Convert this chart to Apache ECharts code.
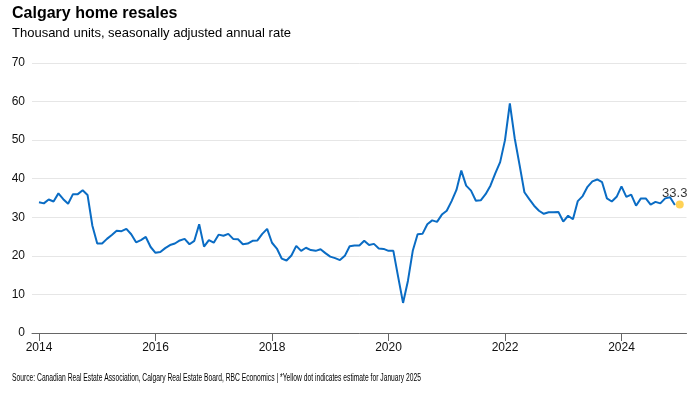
<!DOCTYPE html>
<html>
<head>
<meta charset="utf-8">
<script src="https://cdn.jsdelivr.net/npm/echarts@6/dist/echarts.min.js"></script>
<style>html,body{margin:0;padding:0;background:#fff;}#c{width:694px;height:396px;}</style>
</head>
<body>
<div id="c"></div>
<script>
// Monthly values, Jan 2014 .. Dec 2024 (thousand units, SAAR)
const startYear = 2014;
const resales = [
  33.9, 33.6, 34.6, 34.1, 36.2, 34.7, 33.5, 36.0, 36.0, 37.0, 35.8, 27.8,
  23.2, 23.2, 24.4, 25.4, 26.5, 26.4, 27.0, 25.6, 23.5, 24.1, 24.9, 22.3,
  20.8, 21.0, 22.0, 22.8, 23.2, 24.0, 24.4, 23.0, 23.9, 28.2, 22.4, 24.1,
  23.4, 25.5, 25.2, 25.7, 24.4, 24.3, 23.0, 23.2, 23.9, 24.0, 25.7, 27.0,
  23.4, 21.9, 19.3, 18.8, 20.1, 22.6, 21.3, 22.1, 21.5, 21.3, 21.7, 20.7,
  19.8, 19.4, 18.9, 20.0, 22.5, 22.7, 22.7, 23.9, 22.8, 23.1, 21.9, 21.8,
  21.3, 21.3, 14.5, 7.8, 13.5, 21.3, 25.6, 25.7, 28.2, 29.2, 28.8, 30.7,
  31.7, 34.2, 37.1, 42.1, 38.2, 36.9, 34.3, 34.4, 36.0, 38.2, 41.4, 44.3,
  50.0, 59.5, 50.5, 43.6, 36.5, 34.7, 33.0, 31.7, 30.9, 31.3, 31.3, 31.4,
  28.9, 30.4, 29.5, 34.2, 35.5, 37.9, 39.3, 39.8, 39.1, 34.9, 34.1, 35.3,
  38.0, 35.3, 35.9, 33.0, 34.9, 34.9, 33.3, 34.0, 33.6, 34.9, 35.2, 33.2
];
// Estimate for January 2025
const estimateMonth = 132; // months after Jan 2014
const estimateValue = 33.3;
const xTicks = [2014, 2016, 2018, 2020, 2022, 2024];

const titleText = 'Calgary home resales';
const subtitleText = 'Thousand units, seasonally adjusted annual rate';
const sourceText = 'Source: Canadian Real Estate Association, Calgary Real Estate Board, RBC Economics | *Yellow dot indicates estimate for January 2025';

const lineData = resales.map((v, i) => [startYear + i / 12, v]);
const estData = [[startYear + estimateMonth / 12, estimateValue]];

// measure source text to fit its width
const srcFont = '11px "Liberation Sans", Arial, sans-serif';
const cv = document.createElement('canvas').getContext('2d');
cv.font = srcFont;
const srcW = cv.measureText(sourceText).width;
const srcScale = 409 / srcW;

const chart = echarts.init(document.getElementById('c'), null, {renderer: 'canvas'});
chart.setOption({
  animation: false,
  backgroundColor: '#ffffff',
  textStyle: {fontFamily: '"Liberation Sans", Arial, sans-serif'},
  grid: {left: 32, right: 7.5, top: 63, bottom: 63, containLabel: false, outerBoundsMode: 'none'},
  xAxis: {
    type: 'value',
    min: 2013.88,
    max: 2025.116,
    axisLine: {show: true, lineStyle: {color: '#666', width: 1}},
    axisTick: {show: true, customValues: xTicks, length: 8, lineStyle: {color: '#666'}},
    axisLabel: {customValues: xTicks, color: '#111', fontSize: 12, margin: 9,
      formatter: v => String(Math.round(v))},
    splitLine: {show: false}
  },
  yAxis: {
    type: 'value',
    min: 0, max: 70, interval: 10,
    axisLine: {show: false},
    axisTick: {show: false},
    axisLabel: {color: '#111', fontSize: 12, margin: 7},
    splitLine: {show: true, lineStyle: {color: '#e6e6e6', width: 1}}
  },
  series: [
    {
      type: 'line',
      data: lineData,
      symbol: 'none',
      lineStyle: {color: '#0a6cc4', width: 2},
      z: 3
    },
    {
      type: 'scatter',
      data: estData,
      symbolSize: 8,
      itemStyle: {color: '#FFC72C'},
      label: {show: true, position: 'top', distance: 1, offset: [-5, 0],
        color: '#000', fontSize: 13, formatter: p => p.value[1].toFixed(1)},
      z: 4
    }
  ],
  graphic: [
    {type: 'text', left: 12, top: 6, style: {text: titleText, fill: '#000', font: 'bold 16px "Liberation Sans", Arial, sans-serif'}},
    {type: 'text', left: 12, top: 27, style: {text: subtitleText, fill: '#000', font: '13px "Liberation Sans", Arial, sans-serif'}},
    {type: 'text', x: 12, y: 372, scaleX: srcScale, style: {text: sourceText, fill: '#000', font: srcFont}}
  ]
});
</script>
</body>
</html>
